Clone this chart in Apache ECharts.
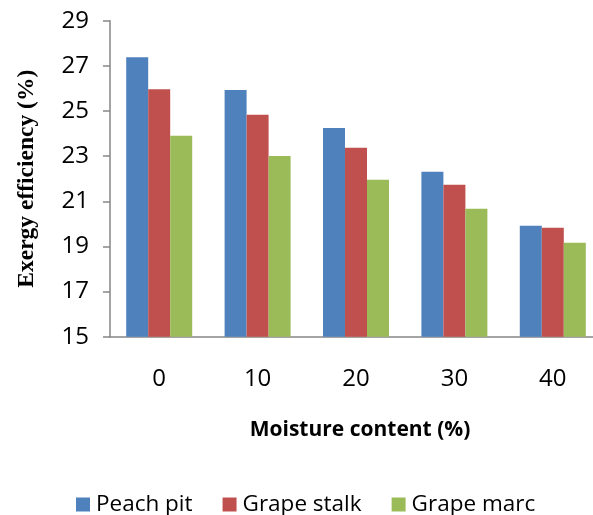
<!DOCTYPE html>
<html><head><meta charset="utf-8">
<script src="https://cdn.jsdelivr.net/npm/echarts@6/dist/echarts.min.js"></script>
<style>html,body{margin:0;padding:0;background:#fff}#c{width:593px;height:515px}</style>
</head><body><div id="c"></div>
<script>
const categories = ['0', '10', '20', '30', '40'];
const peachPit = [27.38, 25.93, 24.25, 22.31, 19.92];
const grapeStalk = [25.96, 24.83, 23.37, 21.73, 19.83];
const grapeMarc = [23.90, 23.01, 21.95, 20.67, 19.16];
const seriesNames = ['Peach pit', 'Grape stalk', 'Grape marc'];
const colors = ['#4F81BD', '#C0504D', '#9BBB59'];
const yMin = 15, yMax = 29, yStep = 2;

const chart = echarts.init(document.getElementById('c'));
const data = [peachPit, grapeStalk, grapeMarc];
chart.setOption({
  animation: false,
  grid: { left: 110, top: 20.7, height: 316, width: 492, containLabel: false, outerBoundsMode: 'none' },
  legend: {
    data: seriesNames, left: 71, top: 488, itemWidth: 14, itemHeight: 14, itemGap: 30,
    icon: 'rect',
    textStyle: { fontFamily: 'Open Sans', fontSize: 22.5, color: '#000', padding: [0,0,0,1] }
  },
  xAxis: {
    type: 'category', data: categories,
    name: 'Moisture content (%)', nameLocation: 'middle', nameGap: 83,
    nameTextStyle: { fontFamily: 'Open Sans', fontWeight: 'bold', fontSize: 21, color: '#000', padding: [0,0,0,8] },
    axisLine: { lineStyle: { color: '#868686', width: 1.5 } },
    axisTick: { length: 6, lineStyle: { color: '#868686', width: 1.5 } },
    axisLabel: { fontFamily: 'Open Sans', fontSize: 24, color: '#000', margin: 30 }
  },
  yAxis: {
    type: 'value', min: yMin, max: yMax, interval: yStep,
    name: 'Exergy efficiency (%)', nameLocation: 'middle', nameGap: 71, nameRotate: 90,
    nameTextStyle: { fontFamily: 'Liberation Serif', fontWeight: 'bold', fontSize: 23.5, color: '#000' },
    axisLine: { show: true, lineStyle: { color: '#868686', width: 1.5 } },
    axisTick: { show: true, length: 7, lineStyle: { color: '#868686', width: 1.5 } },
    splitLine: { show: false },
    axisLabel: { fontFamily: 'Open Sans', fontSize: 24, color: '#000', margin: 21 }
  },
  series: data.map((d, i) => ({
    name: seriesNames[i], type: 'bar', data: d, barWidth: 22, barGap: '0%',
    itemStyle: { color: colors[i] }
  }))
});
</script></body></html>
